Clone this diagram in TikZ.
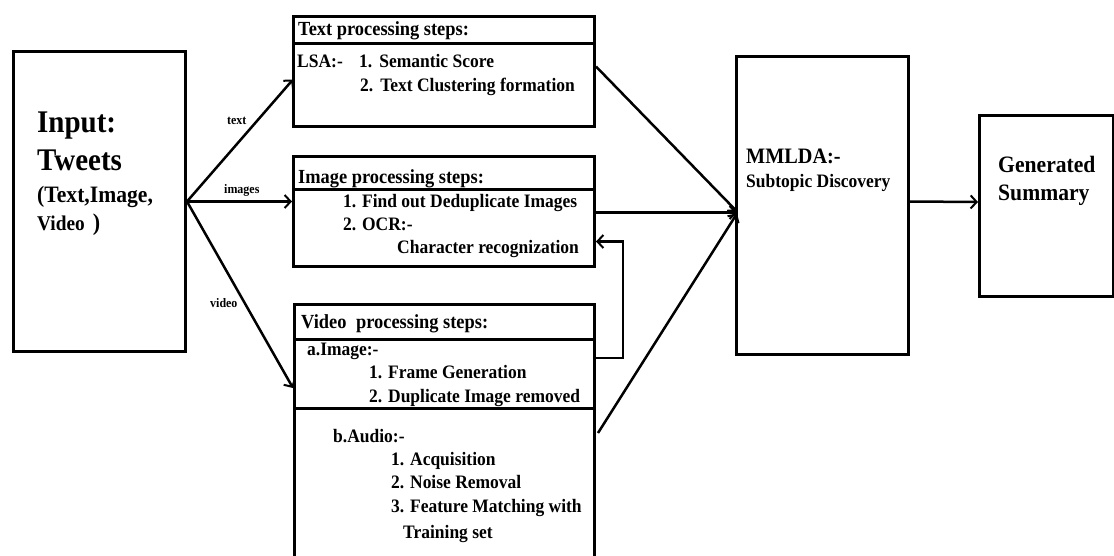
\documentclass[tikz,border=0pt]{standalone}
\usepackage{fontspec}
\setmainfont{Liberation Serif}[FakeStretch=0.92]
\usetikzlibrary{arrows.meta,calc}
\newcommand\myfs[1]{\fontsize{#1}{#1}\selectfont}
\begin{document}
\begin{tikzpicture}[x=1pt,y=-1pt,
  box/.style={draw, line width=3pt, inner sep=0pt, anchor=north west},
  divider/.style={line width=3pt},
  lbl/.style={anchor=base west, inner sep=0pt, font=\bfseries\myfs{19}},
  ttl/.style={anchor=base west, inner sep=0pt, font=\bfseries\myfs{20}},
  elbl/.style={anchor=base west, inner sep=0pt, font=\bfseries\myfs{13}},
  arr/.style={line width=2.5pt, -{Straight Barb[length=6pt,width=13pt,line width=2pt]}}]
\useasboundingbox (0,0) rectangle (1114,555);
\fill[white] (0,0) rectangle (1114,555);

% boxes
\node[box, minimum width=172, minimum height=300] (in) at (12,50) {};
\node[box, minimum width=301, minimum height=110] (tb) at (292,15) {};
\node[box, minimum width=301, minimum height=110] (ib) at (292,155) {};
\node[box, minimum width=300, minimum height=258] (vb) at (293,303) {};
\node[box, minimum width=172, minimum height=298] (mm) at (735,55) {};
\node[box, minimum width=134, minimum height=181] (gs) at (978,114) {};

% dividers
\draw[divider] (292,43) -- (596,43);
\draw[divider] (292,189) -- (593,189);
\draw[divider] (293,339) -- (593,339);
\draw[divider] (293,408) -- (593,408);

% input text
\node[anchor=base west, inner sep=0pt, font=\bfseries\myfs{31.5}] (t1) at (37,132) {Input:};
\node[anchor=base west, inner sep=0pt, font=\bfseries\myfs{31.5}] (t2) at (37,170) {Tweets};
\node[anchor=base west, inner sep=0pt, font=\bfseries\myfs{23.5}] (t3) at (37,202) {(Text,Image,};
\node[anchor=base west, inner sep=0pt, font=\bfseries\myfs{21}] (t4) at (37,230) {Video\hspace{8pt}{\myfs{24})}};

% text box
\node[ttl] (tbt) at (298,35) {Text processing steps:};
\node[lbl] (lsa) at (297,67) {LSA:-};
\node[lbl] (ts1) at (359,67) {1.\hspace{7pt}Semantic Score};
\node[lbl] (ts2) at (360,91) {2.\hspace{7pt}Text Clustering formation};

% image box
\node[ttl] (ibt) at (298,183) {Image processing steps:};
\node[lbl] (is1) at (343,207) {1. Find out Deduplicate Images};
\node[lbl] (is2) at (343,230) {2. OCR:-};
\node[lbl] (is3) at (397,253) {Character recognization};

% video box
\node[ttl] (vbt) at (301,328) {Video\hspace{5pt} processing steps:};
\node[lbl] (va) at (307,355) {a.Image:-};
\node[lbl] (va1) at (369,378) {1. Frame Generation};
\node[lbl] (va2) at (369,402) {2. Duplicate Image removed};
\node[lbl] (vb0) at (333,442) {b.Audio:-};
\node[lbl] (vb1) at (391,465) {1. Acquisition};
\node[lbl] (vb2) at (391,488) {2. Noise Removal};
\node[lbl] (vb3) at (391,512) {3. Feature Matching with};
\node[lbl] (vb4) at (403,538) {Training set};

% MMLDA
\node[anchor=base west, inner sep=0pt, font=\bfseries\myfs{22}] (m1) at (746,163) {MMLDA:-};
\node[lbl] (m2) at (746,187) {Subtopic Discovery};

% summary
\node[anchor=base west, inner sep=0pt, font=\bfseries\myfs{23.5}] (g1) at (998,172) {Generated};
\node[anchor=base west, inner sep=0pt, font=\bfseries\myfs{23.5}] (g2) at (998,200) {Summary};

% edge labels
\node[elbl] (le1) at (227,124) {text};
\node[elbl] (le2) at (224,193) {images};
\node[elbl] (le3) at (210,307) {video};

% connectors
\draw[arr] (in.east) -- ($(tb.west)+(1,8)$);
\draw[arr] (in.east) -- (ib.west |- in.east);
\draw[arr] (in.east) -- ($(vb.north west)+(0,85)$);
\draw[arr] ($(tb.east)+(0,-5)$) -- ($(mm.west)+(2,6)$);
\draw[arr] ($(ib.east)+(0,1)$) -- ($(mm.west)+(2,7)$);
\draw[arr] ($(vb.north east)+(2,130)$) -- ($(mm.west)+(2,8)$);
\draw[arr] ($(vb.north east)+(0,55)$) -- ++(27,0) |- ($(ib.east)+(0,30)$);
\draw[arr] ($(mm.east)+(0,-4)$) -- ($(gs.west)+(0,-4)$);
\end{tikzpicture}
\end{document}
